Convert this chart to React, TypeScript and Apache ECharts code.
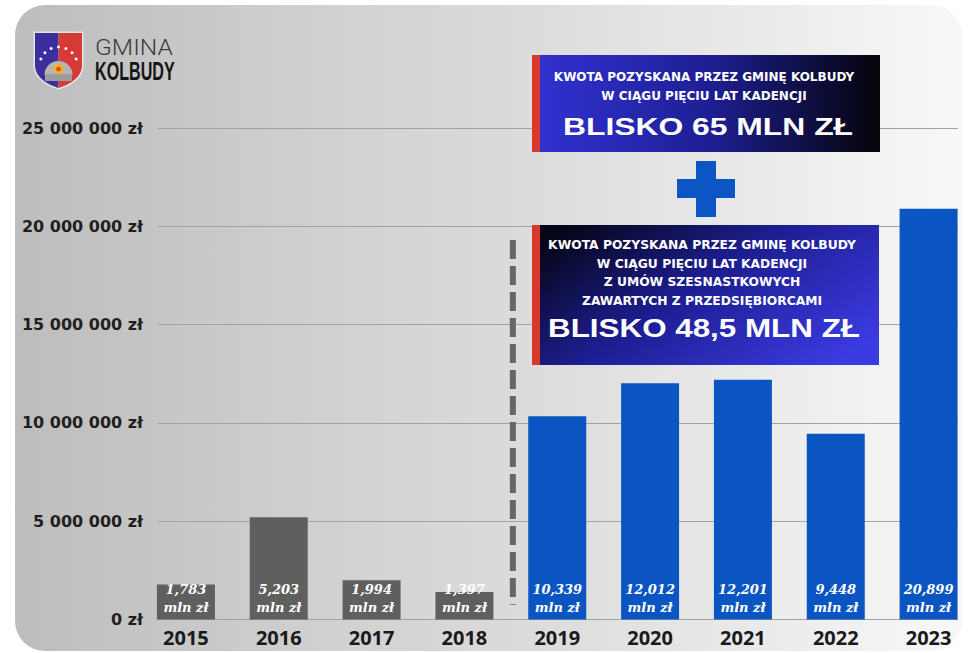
import React, { useEffect, useRef } from 'react';
import * as echarts from 'echarts';

const years = ['2015', '2016', '2017', '2018', '2019', '2020', '2021', '2022', '2023'];
const amounts = [1783000, 5203000, 1994000, 1397000, 10339000, 12012000, 12201000, 9448000, 20899000];
const firstCadenceIndex = 4;
const yMax = 25000000;
const yStep = 5000000;
const dividerTop = 19300000;
const dividerBottom = 750000;

const topBoxLines = ['KWOTA POZYSKANA PRZEZ GMINĘ KOLBUDY', 'W CIĄGU PIĘCIU LAT KADENCJI'];
const topBoxTotal = 'BLISKO 65 MLN ZŁ';
const bottomBoxLines = [
  'KWOTA POZYSKANA PRZEZ GMINĘ KOLBUDY',
  'W CIĄGU PIĘCIU LAT KADENCJI',
  'Z UMÓW SZESNASTKOWYCH',
  'ZAWARTYCH Z PRZEDSIĘBIORCAMI',
];
const bottomBoxTotal = 'BLISKO 48,5 MLN ZŁ';
const logoTop = 'GMINA';
const logoBottom = 'KOLBUDY';

let registered = false;
function registerShapes() {
  if (registered) return;
  registered = true;
  echarts.graphic.registerShape(
    'shieldLeft',
    echarts.graphic.extendPath('M0 0 L23.5 0 L23.5 55 C11 51 0 44 0 32 Z', {})
  );
  echarts.graphic.registerShape(
    'shieldRight',
    echarts.graphic.extendPath('M23.5 0 L47 0 L47 32 C47 44 36 51 23.5 55 Z', {})
  );
  echarts.graphic.registerShape(
    'shieldOuter',
    echarts.graphic.extendPath('M0 0 L47 0 L47 32 C47 44 36 51 23.5 55 C11 51 0 44 0 32 Z', {})
  );
}

const fmtAxis = (v: number) =>
  String(v).replace(/\B(?=(\d{3})+(?!\d))/g, ' ') + ' zł';
const fmtBar = (v: number) => (v / 1e6).toFixed(3).replace('.', ',') + '\nmln zł';

function boxText(text: string, x: number, y: number, size: number, family: string, scaleX = 1) {
  return {
    type: 'text',
    x,
    y,
    scaleX,
    z: 101,
    style: {
      text,
      fill: '#ffffff',
      font: `bold ${size}px ${family}`,
      textAlign: 'center',
      textVerticalAlign: 'middle',
    },
  };
}

function buildGraphics() {
  const g: any[] = [];
  // logo
  g.push({ type: 'shieldOuter', x: 35, y: 33, z: 100, style: { fill: '#d8d8d8', stroke: '#e6e6e6', lineWidth: 3 } });
  g.push({ type: 'shieldLeft', x: 35, y: 33, z: 101, style: { fill: '#3c2e9c' } });
  g.push({ type: 'shieldRight', x: 35, y: 33, z: 101, style: { fill: '#d63a36' } });
  g.push({ type: 'sector', z: 102, shape: { cx: 58.5, cy: 75, r: 14, r0: 0, startAngle: Math.PI, endAngle: Math.PI * 2, clockwise: true }, style: { fill: '#b5b5b5' } });
  g.push({ type: 'rect', z: 102, shape: { x: 45, y: 74, width: 27, height: 7 }, style: { fill: '#9c9c9c' } });
  g.push({ type: 'circle', z: 103, shape: { cx: 58.5, cy: 69, r: 5 }, style: { fill: '#f4b21e' } });
  g.push({ type: 'circle', z: 104, shape: { cx: 58.5, cy: 69, r: 2.3 }, style: { fill: '#e0451f' } });
  for (let i = 0; i < 7; i++) {
    const a = Math.PI * (1.12 + (0.76 * i) / 6);
    g.push({
      type: 'circle',
      z: 103,
      shape: { cx: 58.5 + 19 * Math.cos(a), cy: 66 + 19 * Math.sin(a), r: 1.5 },
      style: { fill: '#ffffff' },
    });
  }
  g.push({
    type: 'text', x: 95, y: 47, z: 101, scaleX: 1.12,
    style: { text: logoTop, fill: '#3a3a3a', font: '300 22px Roboto', textVerticalAlign: 'middle' },
  });
  g.push({
    type: 'text', x: 95, y: 71, z: 101, scaleX: 0.62,
    style: { text: logoBottom, fill: '#151515', font: "bold 26px 'Liberation Sans Narrow', 'Liberation Sans'", textVerticalAlign: 'middle' },
  });

  // top box
  g.push({
    type: 'rect', z: 100, shape: { x: 532, y: 55, width: 348, height: 97 },
    style: {
      fill: new echarts.graphic.LinearGradient(0, 0, 1, 0, [
        { offset: 0, color: '#3132d2' },
        { offset: 0.5, color: '#1e1f96' },
        { offset: 1, color: '#040409' },
      ]),
    },
  });
  g.push({ type: 'rect', z: 101, shape: { x: 532, y: 55, width: 8, height: 97 }, style: { fill: '#d9382c' } });
  topBoxLines.forEach((t, i) => g.push(boxText(t, 704, 77 + i * 18.5, 12, "'DejaVu Sans'")));
  g.push(boxText(topBoxTotal, 708, 126, 24.5, "'Liberation Sans'", 1.3));

  // plus
  g.push({ type: 'rect', z: 100, shape: { x: 696, y: 161, width: 20, height: 56 }, style: { fill: '#0b55c4' } });
  g.push({ type: 'rect', z: 100, shape: { x: 677, y: 179, width: 58, height: 19 }, style: { fill: '#0b55c4' } });

  // bottom box
  g.push({
    type: 'rect', z: 100, shape: { x: 532, y: 225, width: 347, height: 140 },
    style: {
      fill: new echarts.graphic.LinearGradient(0, 0.2, 1, 0.8, [
        { offset: 0, color: '#06061a' },
        { offset: 0.45, color: '#1d1e92' },
        { offset: 1, color: '#3b3be2' },
      ]),
    },
  });
  g.push({ type: 'rect', z: 101, shape: { x: 532, y: 225, width: 8, height: 140 }, style: { fill: '#d9382c' } });
  bottomBoxLines.forEach((t, i) => g.push(boxText(t, 702, 245 + i * 18.5, 12.3, "'DejaVu Sans'")));
  g.push(boxText(bottomBoxTotal, 704, 328, 25.5, "'Liberation Sans'", 1.23));
  return g;
}

export default function App() {
  const ref = useRef<HTMLDivElement>(null);
  useEffect(() => {
    if (!ref.current) return;
    registerShapes();
    const chart = echarts.init(ref.current, undefined, { renderer: 'svg' });
    const option: any = {
      animation: false,
      backgroundColor: 'transparent',
      grid: [
        { left: 139.5, right: 0, top: 128, bottom: 33.5 },
        { left: 158, right: 17, top: 128, bottom: 33.5 },
      ],
      xAxis: [
        {
          type: 'category',
          gridIndex: 0,
          data: years,
          axisLine: { show: false },
          axisTick: { show: false },
          axisLabel: { color: '#1a1a1a', fontFamily: 'Open Sans', fontWeight: 'bold', fontSize: 20, margin: 8 },
        },
        { type: 'value', gridIndex: 1, min: 0, max: 1, show: false },
      ],
      yAxis: [
        { type: 'value', gridIndex: 0, min: 0, max: yMax, interval: yStep, show: false, splitLine: { show: false } },
        {
          type: 'value',
          gridIndex: 1,
          min: 0,
          max: yMax,
          interval: yStep,
          axisLine: { show: false },
          axisTick: { show: false },
          splitLine: { show: true, lineStyle: { color: '#a2a2a2', width: 1 } },
          axisLabel: {
            formatter: fmtAxis,
            color: '#1f1f1f',
            fontFamily: 'DejaVu Sans',
            fontWeight: 'bold',
            fontSize: 16,
            margin: 15,
          },
        },
      ],
      series: [
        {
          type: 'bar',
          xAxisIndex: 0,
          yAxisIndex: 0,
          barWidth: 58,
          z: 3,
          data: amounts.map((v, i) => ({
            value: v,
            itemStyle: { color: i < firstCadenceIndex ? '#5f5f5f' : '#0b55c2' },
          })),
          label: {
            show: true,
            position: 'insideBottom',
            distance: 3,
            formatter: (p: any) => fmtBar(p.value),
            color: '#ffffff',
            fontFamily: 'DejaVu Serif',
            fontStyle: 'italic',
            fontWeight: 900,
            fontSize: 13,
            lineHeight: 18,
          },
        },
      ],
      graphic: buildGraphics(),
    };
    chart.setOption(option);
    const xa = chart.convertToPixel({ xAxisIndex: 0 }, years[firstCadenceIndex - 1]) as number;
    const xb = chart.convertToPixel({ xAxisIndex: 0 }, years[firstCadenceIndex]) as number;
    const y1 = chart.convertToPixel({ yAxisIndex: 0 }, dividerTop) as number;
    const y2 = chart.convertToPixel({ yAxisIndex: 0 }, dividerBottom) as number;
    const xm = (xa + xb) / 2 + 2;
    chart.setOption({
      graphic: [
        ...buildGraphics(),
        {
          type: 'line',
          z: 50,
          shape: { x1: xm, y1, x2: xm, y2 },
          style: { stroke: '#666666', lineWidth: 6, lineDash: [19, 7], lineCap: 'butt' },
        },
      ],
    });
    return () => chart.dispose();
  }, []);

  return (
    <div style={{ position: 'fixed', left: 0, top: 0, width: 975, height: 653, background: '#ffffff', overflow: 'hidden' }}>
      <div
        style={{
          position: 'absolute',
          left: 15,
          top: 5,
          width: 947,
          height: 646,
          borderRadius: 30,
          background: 'linear-gradient(90deg, #bdbdbd 0%, #cfcfcf 30%, #dcdcdc 55%, #eaeaea 78%, #f8f8f8 100%)',
        }}
      />
      <div ref={ref} style={{ position: 'absolute', left: 0, top: 0, width: 975, height: 653 }} />
    </div>
  );
}
